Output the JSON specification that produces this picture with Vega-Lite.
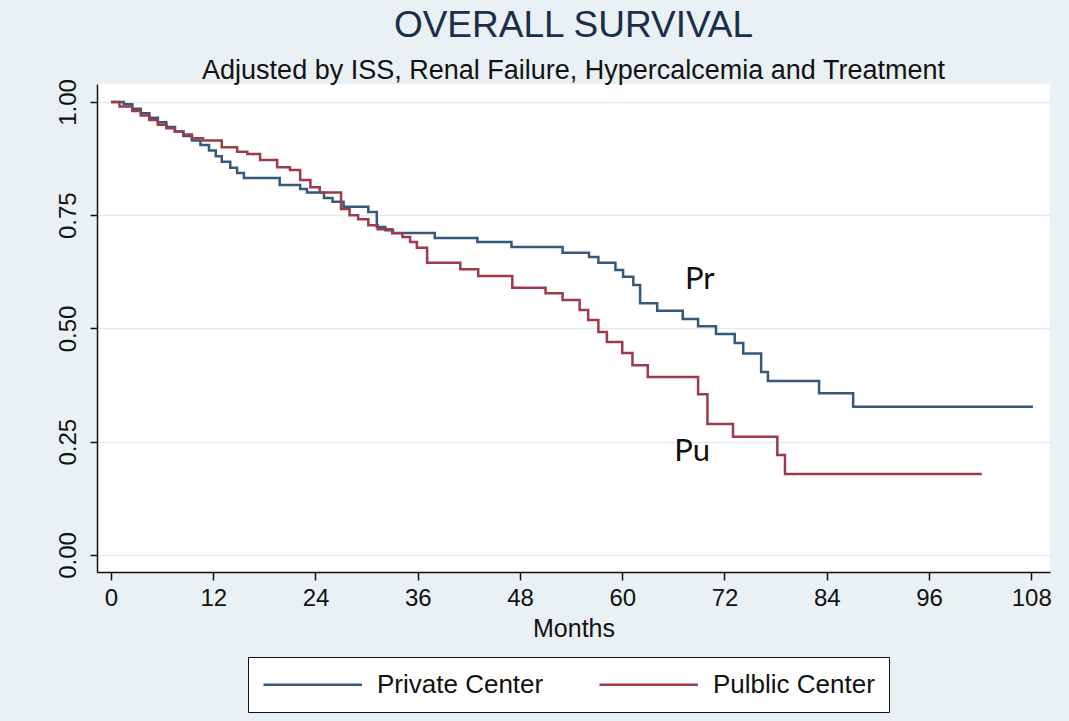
{
  "$schema": "https://vega.github.io/schema/vega-lite/v6.json",
  "width": 953,
  "height": 488,
  "autosize": {"type": "none"},
  "padding": {"left": 97, "top": 84, "right": 19, "bottom": 149},
  "background": "#e9f1f4",
  "config": {
    "view": {"fill": "white", "stroke": null},
    "font": "Liberation Sans"
  },
  "title": {
    "text": "OVERALL SURVIVAL",
    "subtitle": "Adjusted by ISS, Renal Failure, Hypercalcemia and Treatment",
    "anchor": "middle",
    "font": "Liberation Sans",
    "fontSize": 37,
    "fontWeight": "normal",
    "color": "#1c2d4a",
    "subtitleFont": "Liberation Sans",
    "subtitleFontSize": 27,
    "subtitleColor": "#111111",
    "subtitlePadding": 13,
    "offset": -6
  },
  "datasets": {
    "curves": [
      {"group": "Private Center", "month": 0, "surv": 1.0},
      {"group": "Private Center", "month": 1.5, "surv": 0.995},
      {"group": "Private Center", "month": 2.5, "surv": 0.985},
      {"group": "Private Center", "month": 3.5, "surv": 0.975},
      {"group": "Private Center", "month": 4.5, "surv": 0.965},
      {"group": "Private Center", "month": 5.5, "surv": 0.955},
      {"group": "Private Center", "month": 6.5, "surv": 0.945},
      {"group": "Private Center", "month": 7.5, "surv": 0.935},
      {"group": "Private Center", "month": 8.5, "surv": 0.925},
      {"group": "Private Center", "month": 9.5, "surv": 0.915},
      {"group": "Private Center", "month": 10.5, "surv": 0.905},
      {"group": "Private Center", "month": 11.5, "surv": 0.893},
      {"group": "Private Center", "month": 12.3, "surv": 0.88},
      {"group": "Private Center", "month": 13, "surv": 0.868},
      {"group": "Private Center", "month": 14, "surv": 0.855},
      {"group": "Private Center", "month": 14.8, "surv": 0.843},
      {"group": "Private Center", "month": 15.6, "surv": 0.832},
      {"group": "Private Center", "month": 19.8, "surv": 0.817},
      {"group": "Private Center", "month": 22.2, "surv": 0.808},
      {"group": "Private Center", "month": 23, "surv": 0.8},
      {"group": "Private Center", "month": 25, "surv": 0.788},
      {"group": "Private Center", "month": 26, "surv": 0.78},
      {"group": "Private Center", "month": 27.3, "surv": 0.769},
      {"group": "Private Center", "month": 30.2, "surv": 0.757},
      {"group": "Private Center", "month": 31.2, "surv": 0.724},
      {"group": "Private Center", "month": 32.2, "surv": 0.717},
      {"group": "Private Center", "month": 33.1, "surv": 0.711},
      {"group": "Private Center", "month": 38, "surv": 0.7},
      {"group": "Private Center", "month": 43, "surv": 0.691},
      {"group": "Private Center", "month": 47, "surv": 0.68},
      {"group": "Private Center", "month": 53, "surv": 0.667},
      {"group": "Private Center", "month": 56.1, "surv": 0.658},
      {"group": "Private Center", "month": 57.2, "surv": 0.645},
      {"group": "Private Center", "month": 59.2, "surv": 0.629},
      {"group": "Private Center", "month": 60.1, "surv": 0.614},
      {"group": "Private Center", "month": 61.3, "surv": 0.596},
      {"group": "Private Center", "month": 62.1, "surv": 0.556},
      {"group": "Private Center", "month": 64.1, "surv": 0.539},
      {"group": "Private Center", "month": 67.1, "surv": 0.521},
      {"group": "Private Center", "month": 68.9, "surv": 0.505},
      {"group": "Private Center", "month": 71, "surv": 0.488},
      {"group": "Private Center", "month": 73.2, "surv": 0.468},
      {"group": "Private Center", "month": 74.2, "surv": 0.445},
      {"group": "Private Center", "month": 76.3, "surv": 0.404},
      {"group": "Private Center", "month": 77.1, "surv": 0.384},
      {"group": "Private Center", "month": 83.1, "surv": 0.357},
      {"group": "Private Center", "month": 87.1, "surv": 0.327},
      {"group": "Private Center", "month": 108.2, "surv": 0.327},
      {"group": "Pulblic Center", "month": 0, "surv": 1.0},
      {"group": "Pulblic Center", "month": 1, "surv": 0.99},
      {"group": "Pulblic Center", "month": 2.5, "surv": 0.98},
      {"group": "Pulblic Center", "month": 3.5, "surv": 0.97},
      {"group": "Pulblic Center", "month": 4.5, "surv": 0.96},
      {"group": "Pulblic Center", "month": 5.5, "surv": 0.95},
      {"group": "Pulblic Center", "month": 6.5, "surv": 0.942},
      {"group": "Pulblic Center", "month": 7.5, "surv": 0.935},
      {"group": "Pulblic Center", "month": 8.5, "surv": 0.928},
      {"group": "Pulblic Center", "month": 9.5, "surv": 0.92},
      {"group": "Pulblic Center", "month": 10.8, "surv": 0.915},
      {"group": "Pulblic Center", "month": 13, "surv": 0.9},
      {"group": "Pulblic Center", "month": 14.8, "surv": 0.89},
      {"group": "Pulblic Center", "month": 16, "surv": 0.885},
      {"group": "Pulblic Center", "month": 17.5, "surv": 0.872},
      {"group": "Pulblic Center", "month": 19.5, "surv": 0.856},
      {"group": "Pulblic Center", "month": 21, "surv": 0.85},
      {"group": "Pulblic Center", "month": 22.2, "surv": 0.828},
      {"group": "Pulblic Center", "month": 23.4, "surv": 0.812},
      {"group": "Pulblic Center", "month": 24.5, "surv": 0.8},
      {"group": "Pulblic Center", "month": 27, "surv": 0.764},
      {"group": "Pulblic Center", "month": 28, "surv": 0.75},
      {"group": "Pulblic Center", "month": 29, "surv": 0.741},
      {"group": "Pulblic Center", "month": 30.2, "surv": 0.728},
      {"group": "Pulblic Center", "month": 31.3, "surv": 0.719},
      {"group": "Pulblic Center", "month": 33, "surv": 0.71},
      {"group": "Pulblic Center", "month": 34.2, "surv": 0.702},
      {"group": "Pulblic Center", "month": 35.1, "surv": 0.691},
      {"group": "Pulblic Center", "month": 35.9, "surv": 0.678},
      {"group": "Pulblic Center", "month": 37.1, "surv": 0.645},
      {"group": "Pulblic Center", "month": 41, "surv": 0.631},
      {"group": "Pulblic Center", "month": 43.1, "surv": 0.616},
      {"group": "Pulblic Center", "month": 47.1, "surv": 0.59},
      {"group": "Pulblic Center", "month": 51, "surv": 0.578},
      {"group": "Pulblic Center", "month": 53, "surv": 0.563},
      {"group": "Pulblic Center", "month": 55, "surv": 0.541},
      {"group": "Pulblic Center", "month": 56, "surv": 0.519},
      {"group": "Pulblic Center", "month": 57.2, "surv": 0.492},
      {"group": "Pulblic Center", "month": 58.2, "surv": 0.47},
      {"group": "Pulblic Center", "month": 60, "surv": 0.446},
      {"group": "Pulblic Center", "month": 61.2, "surv": 0.419},
      {"group": "Pulblic Center", "month": 63, "surv": 0.393},
      {"group": "Pulblic Center", "month": 68.9, "surv": 0.355},
      {"group": "Pulblic Center", "month": 70, "surv": 0.289},
      {"group": "Pulblic Center", "month": 73, "surv": 0.261},
      {"group": "Pulblic Center", "month": 78.2, "surv": 0.221},
      {"group": "Pulblic Center", "month": 79.1, "surv": 0.179},
      {"group": "Pulblic Center", "month": 102.2, "surv": 0.179}
    ],
    "labels": [
      {"label": "Pr", "month": 69.1, "surv": 0.607},
      {"label": "Pu", "month": 68.2, "surv": 0.227}
    ]
  },
  "layer": [
    {
      "data": {"name": "curves"},
      "mark": {"type": "line", "interpolate": "step-after", "strokeWidth": 2.5},
      "encoding": {
        "x": {
          "field": "month",
          "type": "quantitative",
          "scale": {"domain": [-1.64, 110.2], "nice": false, "zero": false},
          "axis": {
            "values": [0, 12, 24, 36, 48, 60, 72, 84, 96, 108],
            "title": "Months",
            "titleFont": "Liberation Sans",
            "titleFontSize": 25,
            "titleFontWeight": "normal",
            "titleColor": "#111111",
            "titlePadding": 6,
            "labelFont": "Liberation Sans",
            "labelFontSize": 24,
            "labelColor": "#111111",
            "labelPadding": 6,
            "tickSize": 8,
            "tickColor": "#111111",
            "tickWidth": 1.5,
            "domainColor": "#111111",
            "domainWidth": 1.5,
            "grid": false
          }
        },
        "y": {
          "field": "surv",
          "type": "quantitative",
          "scale": {"domain": [-0.0375, 1.0397], "nice": false, "zero": false},
          "axis": {
            "values": [0, 0.25, 0.5, 0.75, 1],
            "format": ".2f",
            "title": null,
            "labelAngle": -90,
            "labelFont": "Liberation Sans",
            "labelFontSize": 24,
            "labelColor": "#111111",
            "labelPadding": 10,
            "tickSize": 7,
            "tickColor": "#111111",
            "tickWidth": 1.5,
            "domainColor": "#111111",
            "domainWidth": 1.5,
            "grid": true,
            "gridColor": "#e3ebee",
            "gridWidth": 1.5
          }
        },
        "color": {
          "field": "group",
          "type": "nominal",
          "scale": {"domain": ["Private Center", "Pulblic Center"], "range": ["#35597a", "#9e3b4b"]},
          "legend": {
            "orient": "none",
            "legendX": 151,
            "legendY": 573,
            "direction": "horizontal",
            "title": null,
            "symbolType": "M-1,0H7.2",
            "symbolSize": 576,
            "symbolStrokeWidth": 2.5,
            "labelFont": "Liberation Sans",
            "labelFontSize": 26,
            "labelColor": "#111111",
            "labelLimit": 400,
            "labelOffset": 88,
            "columnPadding": 50,
            "padding": 14,
            "strokeColor": "#111111",
            "fillColor": "white"
          }
        }
      }
    },
    {
      "data": {"name": "labels"},
      "mark": {"type": "text", "font": "Lato", "fontSize": 31, "color": "#111111", "align": "center", "baseline": "middle"},
      "encoding": {
        "x": {"field": "month", "type": "quantitative"},
        "y": {"field": "surv", "type": "quantitative"},
        "text": {"field": "label"}
      }
    }
  ]
}
